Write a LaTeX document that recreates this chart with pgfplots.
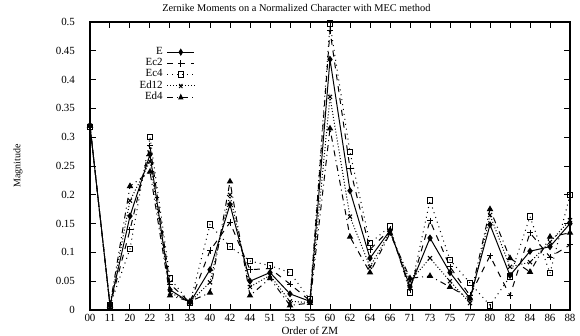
\documentclass[border=0pt]{standalone}
\usepackage{pgfplots}
\pgfplotsset{compat=1.18}
\usepackage{pgfplotstable}
\usepackage{fontspec}
\setmainfont{Liberation Serif}
\pgfplotstableread{
x E Ectwo Ecfour Edtwelve Edfour
0 0.320 0.320 0.318 0.320 0.320
1 0.008 0.008 0.008 0.008 0.008
2 0.163 0.139 0.106 0.190 0.215
3 0.270 0.285 0.300 0.258 0.240
4 0.035 0.045 0.055 0.030 0.025
5 0.013 0.013 0.012 0.014 0.015
6 0.070 0.103 0.148 0.048 0.030
7 0.183 0.152 0.110 0.200 0.223
8 0.050 0.070 0.085 0.040 0.025
9 0.065 0.072 0.077 0.060 0.055
10 0.028 0.045 0.065 0.015 0.008
11 0.015 0.016 0.018 0.013 0.012
12 0.435 0.485 0.497 0.370 0.315
13 0.207 0.246 0.274 0.162 0.127
14 0.090 0.105 0.116 0.075 0.065
15 0.138 0.140 0.145 0.135 0.133
16 0.040 0.035 0.030 0.050 0.055
17 0.125 0.155 0.190 0.090 0.059
18 0.065 0.075 0.087 0.050 0.040
19 0.020 0.025 0.047 0.012 0.020
20 0.148 0.094 0.008 0.165 0.175
21 0.060 0.025 0.058 0.075 0.090
22 0.102 0.134 0.162 0.083 0.066
23 0.110 0.092 0.064 0.118 0.127
24 0.150 0.113 0.200 0.156 0.134
}\datatable
\begin{document}
\begin{tikzpicture}
\path[use as bounding box] (-45bp,-13bp) rectangle (245bp,155bp);
\begin{axis}[
  at={(0,0)}, anchor=south west,
  scale only axis, width=240bp, height=144bp,
  xmin=0, xmax=24, ymin=0, ymax=0.5,
  xtick={0,...,24},
  xticklabels={00,11,20,22,31,33,40,42,44,51,53,55,60,62,64,66,71,73,75,77,80,82,84,86,88},
  ytick={0,0.05,...,0.5},
  /pgf/number format/fixed,
  /pgf/number format/precision=2,
  /pgf/number format/assume math mode=true,
  tick align=inside, tick pos=both,
  major tick length=3bp,
  tick style={black, line width=0.5pt},
  axis line style={line width=0.7pt},
  ticklabel style={font=\fontsize{5.5}{6}\selectfont},
  yticklabel style={xshift=-4bp},
  xticklabel style={yshift=1.5bp},
  xlabel={Order of ZM},
  xlabel style={font=\fontsize{5.5}{6}\selectfont, at={(axis description cs:0.458,-0.072)}, anchor=center},
  ylabel={Magnitude},
  ylabel style={font=\fontsize{5}{6}\selectfont, at={(axis description cs:-0.15,0.5)}, anchor=center},
  clip=false,
  legend style={at={(axis description cs:0.09,0.935)}, anchor=north west, draw=none, fill=none,
    font=\fontsize{5.5}{6}\selectfont, row sep=-3.5pt, inner sep=1pt},
  legend cell align=right,
  legend plot pos=right,
  legend image post style={xscale=0.8},
]
\node[font=\fontsize{5.2}{6}\selectfont] at (axis description cs:0.43,1.049) {Zernike Moments on a Normalized Character with MEC method};
\addplot[black, line width=0.5pt, mark size=1.4pt, solid, mark=diamond*, mark options={solid, fill=black}] table[x=x,y=E]{\datatable};
\addlegendentry{E}
\addplot[black, line width=0.5pt, mark size=1.6pt, dashed, mark=+, mark options={solid}] table[x=x,y=Ectwo]{\datatable};
\addlegendentry{Ec2}
\addplot[black, line width=0.5pt, mark size=1.4pt, dotted, mark=square, mark options={solid, fill=white}] table[x=x,y=Ecfour]{\datatable};
\addlegendentry{Ec4}
\addplot[black, line width=0.5pt, mark size=1.4pt, densely dotted, mark=x, mark options={solid}] table[x=x,y=Edtwelve]{\datatable};
\addlegendentry{Ed12}
\addplot[black, line width=0.5pt, mark size=1.4pt, dash dot, mark=triangle*, mark options={solid, fill=black}] table[x=x,y=Edfour]{\datatable};
\addlegendentry{Ed4}
\end{axis}
\end{tikzpicture}
\end{document}
